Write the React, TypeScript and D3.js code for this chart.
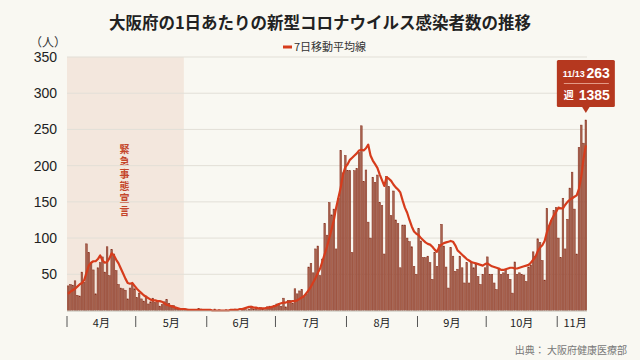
import React from "react"
import * as d3 from "d3"

// daily new cases, Osaka 2020
const casesApr = [34, 36, 35, 41, 21, 20, 53, 39, 92, 80, 66, 56, 23, 59, 66, 74, 53, 88, 48, 84, 78, 55, 36, 31, 30, 28, 16, 31, 37, 30]
const casesMay = [18, 24, 16, 13, 20, 9, 12, 17, 11, 14, 6, 8, 12, 15, 10, 5, 7, 3, 2, 1, 3, 1, 2, 0, 1, 1, 0, 3, 2, 1, 0]
const casesJun = [0, 1, 0, 2, 0, 1, 0, 0, 1, 0, 1, 0, 2, 1, 0, 2, 3, 1, 2, 6, 2, 3, 1, 4, 2, 1, 5, 6, 4, 7]
const casesJul = [9, 10, 6, 17, 5, 14, 14, 10, 30, 23, 27, 29, 18, 23, 60, 65, 52, 85, 89, 48, 71, 120, 104, 149, 132, 140, 85, 155, 221, 190, 214]
const casesAug = [193, 193, 80, 193, 196, 218, 255, 178, 194, 122, 100, 184, 177, 187, 149, 145, 78, 185, 171, 131, 165, 125, 120, 59, 118, 118, 100, 95, 88, 61, 50]
const casesSep = [113, 96, 73, 73, 75, 66, 43, 80, 61, 91, 119, 89, 60, 31, 87, 75, 54, 57, 75, 59, 38, 66, 38, 66, 59, 64, 47, 36, 50, 59]
const casesOct = [74, 50, 50, 38, 29, 57, 50, 52, 57, 50, 43, 24, 67, 50, 52, 50, 49, 40, 60, 63, 81, 75, 99, 94, 69, 42, 141, 117, 124, 138, 142]
const casesNov = [100, 73, 155, 85, 126, 169, 191, 140, 78, 225, 256, 231, 263]

// 7-day moving average line
const avgApr = [23, 26, 28, 30, 33, 36, 38, 42, 52, 62, 66, 68, 68, 71, 76, 69, 66, 67, 72, 79, 76, 70, 65, 58, 51, 44, 38, 37, 38, 34]
const avgMay = [30, 27, 24, 21, 19, 17, 15, 14, 14, 13, 13, 12, 10, 8, 7, 6, 5, 4, 3, 2, 2, 2, 1, 1, 1, 1, 1, 1, 1, 1, 1]
const avgJun = [1, 1, 0, 0, 0, 0, 0, 0, 0, 0, 1, 1, 1, 1, 2, 2, 3, 4, 5, 5, 4, 4, 3, 3, 3, 3, 4, 4, 5, 6]
const avgJul = [7, 9, 10, 11, 11, 12, 12, 13, 13, 14, 16, 18, 20, 24, 28, 33, 39, 45, 52, 58, 68, 78, 88, 100, 112, 125, 142, 156, 170, 188, 198]
const avgAug = [202, 208, 211, 214, 217, 221, 222, 221, 224, 229, 214, 207, 202, 197, 188, 180, 172, 184, 182, 179, 174, 170, 167, 163, 152, 142, 135, 125, 116, 109, 106]
const avgSep = [104, 100, 97, 94, 92, 91, 88, 84, 81, 88, 91, 93, 94, 95, 96, 95, 90, 83, 80, 77, 74, 71, 69, 67, 66, 65, 64, 63, 62, 64]
const avgOct = [65, 63, 61, 60, 59, 58, 56, 56, 57, 58, 59, 59, 58, 58, 59, 60, 61, 62, 63, 66, 70, 74, 82, 87, 90, 96, 108, 117, 125, 131, 136]
const avgNov = [142, 141, 141, 146, 150, 153, 155, 157, 159, 168, 185, 210, 228]

const monthLabels = ["4月", "5月", "6月", "7月", "8月", "9月", "10月", "11月"]
const yTicks = [50, 100, 150, 200, 250, 300, 350]
const weeklyTotal = 1385

const startDate = new Date(2020, 3, 1)
const emergencyEnd = new Date(2020, 4, 22) // 5/21 inclusive

const JP = "'Noto Sans CJK JP', 'Liberation Sans', sans-serif"
const NUM = "'Liberation Sans', Arial, sans-serif"

export default function App() {
    const daily = [...casesApr, ...casesMay, ...casesJun, ...casesJul, ...casesAug, ...casesSep, ...casesOct, ...casesNov]
    const avg = [...avgApr, ...avgMay, ...avgJun, ...avgJul, ...avgAug, ...avgSep, ...avgOct, ...avgNov]
    const dates = daily.map((_, i) => d3.timeDay.offset(startDate, i))
    const endDate = d3.timeDay.offset(startDate, daily.length)

    const x = d3.scaleTime().domain([startDate, endDate]).range([67, 587])
    const y = d3.scaleLinear().domain([0, 350]).range([310.5, 57])
    const step = x(dates[1]) - x(dates[0])
    const barW = step * 0.72

    const line = d3.line<number>()
        .x((_, i) => x(dates[i]) + step / 2)
        .y(d => y(d))

    const months = d3.timeMonth.range(startDate, endDate)
    const [x0, x1] = x.range()

    const last = daily.length - 1
    const tipX = x(dates[last]) + step / 2
    const lastDate = dates[last]
    const lastLabel = `${lastDate.getMonth() + 1}/${lastDate.getDate()}`
    const boxW = 58
    const boxL = tipX - boxW / 2

    return (
        <svg width={640} height={360} style={{ position: "absolute", left: 0, top: 0, background: "#f9f8f2" }}>
            <rect width={640} height={360} fill="#f9f8f2" />

            {/* emergency declaration */}
            <rect x={x(startDate)} y={y(350)} width={x(emergencyEnd) - x(startDate)} height={y(0) - y(350)} fill="#f3e7dd" />
            <text x={(x(startDate) + x(emergencyEnd)) / 2 - 1} y={144} fontSize={10} fontWeight="bold" letterSpacing={2.4}
                fill="#c4452a" fontFamily={JP} style={{ writingMode: "vertical-rl" }}>緊急事態宣言</text>

            {/* grid */}
            {yTicks.map(t => (
                <g key={t}>
                    <line x1={x0} x2={x1} y1={y(t)} y2={y(t)} stroke="#e2dfd7" strokeWidth={1} />
                    <text x={57} y={y(t) + 5} textAnchor="end" fontSize={14} fill="#222" fontFamily={NUM}>{t}</text>
                </g>
            ))}
            <text x={48} y={47} textAnchor="middle" fontSize={12} fill="#333" fontFamily={JP}>（人）</text>

            {/* bars */}
            {daily.map((v, i) => (
                <rect key={i} x={x(dates[i]) + (step - barW) / 2} y={y(v)} width={barW} height={y(0) - y(v)}
                    fill="#a8634f" stroke="#86301e" strokeWidth={0.5} />
            ))}

            {/* 7-day average */}
            <path d={line(avg) ?? ""} fill="none" stroke="#d63c1c" strokeWidth={2.2} strokeLinejoin="round" />

            {/* x axis */}
            <line x1={x0} x2={x1} y1={y(0) + 0.5} y2={y(0) + 0.5} stroke="#bdb9b0" strokeWidth={1} />
            {months.map((m, i) => {
                const next = i < months.length - 1 ? months[i + 1] : endDate
                return (
                    <g key={i}>
                        <line x1={x(m)} x2={x(m)} y1={316} y2={327} stroke="#555" strokeWidth={1} />
                        <text x={(x(m) + x(next)) / 2 + (i === months.length - 1 ? 3 : 0)} y={327} textAnchor="middle"
                            fontSize={11} fill="#222" fontFamily={JP}>{monthLabels[i]}</text>
                    </g>
                )
            })}

            {/* title & legend */}
            <text x={320} y={29} textAnchor="middle" fontSize={16.5} fontWeight="bold" fill="#222" fontFamily={JP}>
                大阪府の1日あたりの新型コロナウイルス感染者数の推移
            </text>
            <line x1={283} x2={292} y1={47} y2={47} stroke="#d63c1c" strokeWidth={3} />
            <text x={294} y={51} fontSize={11} fill="#333" fontFamily={JP}>7日移動平均線</text>

            {/* callout */}
            <rect x={boxL} y={60} width={boxW} height={47} rx={1.5} fill="#b5381f" />
            <path d={`M${tipX - 4},106.5 L${tipX + 4},106.5 L${tipX},113 Z`} fill="#b5381f" />
            <line x1={boxL + 7} x2={boxL + boxW - 6} y1={83.5} y2={83.5} stroke="#e39a86" strokeWidth={1} />
            <text x={boxL + 6} y={77} fontSize={9} fontWeight="bold" fill="#fff" fontFamily={NUM}>{lastLabel}</text>
            <text x={boxL + boxW - 5} y={78} textAnchor="end" fontSize={14} fontWeight="bold" fill="#fff" fontFamily={NUM}>{daily[last]}</text>
            <text x={boxL + 7} y={99} fontSize={10} fontWeight="bold" fill="#fff" fontFamily={JP}>週</text>
            <text x={boxL + boxW - 5} y={100} textAnchor="end" fontSize={14} fontWeight="bold" fill="#fff" fontFamily={NUM}>{weeklyTotal}</text>

            <text x={627} y={354} textAnchor="end" fontSize={10} fill="#777" fontFamily={JP}>出典： 大阪府健康医療部</text>
        </svg>
    )
}
